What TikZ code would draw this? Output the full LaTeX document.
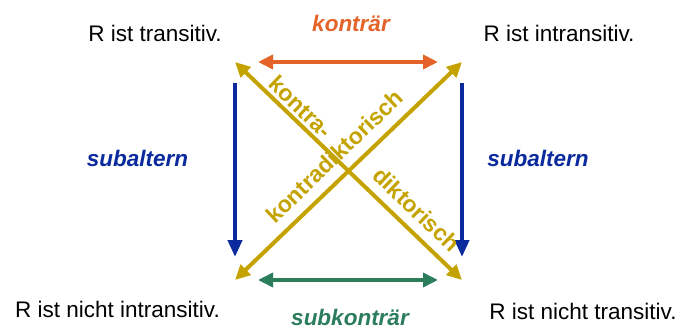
\documentclass[tikz,border=0pt]{standalone}
\usepackage{fontspec}
\setmainfont{Liberation Sans}
\usepackage{tikz}
\usetikzlibrary{arrows.meta}
\definecolor{kontrcol}{HTML}{E36328}
\definecolor{subkcol}{HTML}{2C7D5C}
\definecolor{subacol}{HTML}{0A2A9E}
\definecolor{diagcol}{HTML}{C4A200}

\begin{document}
\begin{tikzpicture}[x=1pt, y=-1pt,
  stmt/.style={anchor=base, inner sep=0pt, font=\fontsize{22.5}{27}\selectfont},
  rel/.style={anchor=base, inner sep=0pt, font=\fontsize{22.5}{27}\selectfont\bfseries\itshape},
  diag/.style={sloped, above=3pt, inner sep=0pt, text=diagcol, font=\fontsize{23}{27}\selectfont\bfseries},
  dbl/.style={{Triangle[length=15pt,width=14pt]}-{Triangle[length=15pt,width=14pt]}, line width=4pt},
  down/.style={-{Triangle[length=17pt,width=14pt]}, line width=4pt, color=subacol, shorten <=21pt, shorten >=23pt}
]
\useasboundingbox (0,0) rectangle (678,329);
\coordinate (tl) at (235,62);
\coordinate (tr) at (462,62);
\coordinate (bl) at (235,280);
\coordinate (br) at (462,280);
\node[stmt] (a) at (155,42) {R ist transitiv.};
\node[stmt] (e) at (559,42) {R ist intransitiv.};
\node[stmt] (i) at (117.5,317) {R ist nicht intransitiv.};
\node[stmt] (o) at (583,319) {R ist nicht transitiv.};
\node[rel, text=kontrcol] (k) at (351,32) {konträr};
\node[rel, text=subkcol] (sk) at (350,325) {subkonträr};
\node[rel, text=subacol] (sl) at (137.5,166) {subaltern};
\node[rel, text=subacol] (sr) at (538,166) {subaltern};
\draw[dbl, kontrcol, shorten <=23pt, shorten >=24pt] (tl) -- (tr);
\draw[dbl, subkcol, shorten <=23pt, shorten >=24pt] (bl) -- (br);
\draw[down] (tl) -- (bl);
\draw[down] (tr) -- (br);
\draw[dbl, diagcol] (tl) -- node[diag, pos=0.25] (kt) {kontra-} node[diag, pos=0.74, above=6pt] (dk) {diktorisch} (br);
\draw[dbl, diagcol] (bl) -- node[diag, pos=0.5, above=7pt] (kd) {kontradiktorisch} (tr);
\end{tikzpicture}
\end{document}
